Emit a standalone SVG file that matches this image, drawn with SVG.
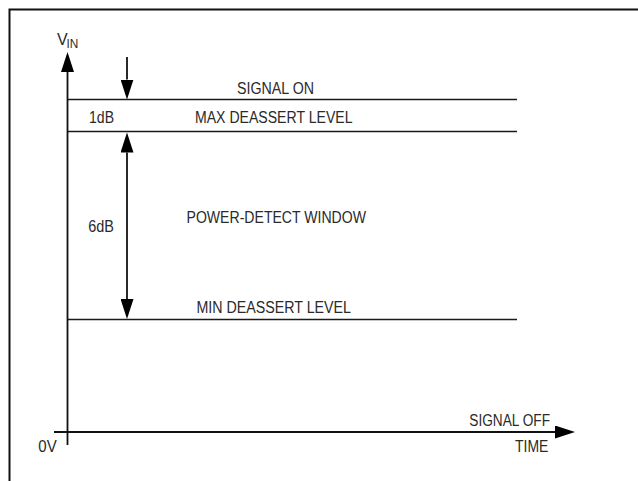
<svg xmlns="http://www.w3.org/2000/svg" width="638" height="481" viewBox="0 0 638 481">
<style>
  .frame{stroke:#111;stroke-width:2;fill:none}
  .ln{stroke:#1a1a1a;stroke-width:1.6;fill:none}
  .ax{stroke:#111;stroke-width:1.8;fill:none}
  .t{font-family:"Liberation Sans",Arial,sans-serif;font-size:16px;fill:#2a2a2a}
  .sub{font-family:"Liberation Sans",Arial,sans-serif;font-size:13px;fill:#2a2a2a}
</style>
<defs>
  <marker id="ah" markerUnits="userSpaceOnUse" markerWidth="20" markerHeight="13" refX="0" refY="6.5" orient="auto-start-reverse" viewBox="0 0 20 13">
    <path d="M0,0 L20,6.5 L0,13 Z" fill="#000"/>
  </marker>
</defs>
<rect width="638" height="481" fill="#fff"/>
<g id="frame">
  <path class="frame" d="M9.5,481 L9.5,9.5 L638,9.5"/>
</g>
<g id="levels">
  <line id="signal-on-line" class="ln" x1="67.5" y1="99.5" x2="517" y2="99.5"/>
  <line id="max-line" class="ln" x1="67.5" y1="131.5" x2="517" y2="131.5"/>
  <line id="min-line" class="ln" x1="67.5" y1="319.5" x2="517" y2="319.5"/>
</g>
<g id="connectors">
  <line id="y-axis" class="ax" x1="67.5" y1="445" x2="67.5" y2="72" marker-end="url(#ah)"/>
  <line id="x-axis" class="ax" x1="54" y1="432" x2="555" y2="432" marker-end="url(#ah)"/>
  <line id="arrow-1db" class="ax" x1="127" y1="57" x2="127" y2="79.5" marker-end="url(#ah)"/>
  <line id="arrow-6db" class="ax" x1="127" y1="152.5" x2="127" y2="299" marker-start="url(#ah)" marker-end="url(#ah)"/>
</g>
<g id="label-vin">
  <text class="t" x="57" y="44.5">V</text>
  <text class="sub" x="66.5" y="47.5" textLength="11.8" lengthAdjust="spacingAndGlyphs">IN</text>
</g>
<g id="label-signal-on"><text class="t" x="237" y="94" textLength="77" lengthAdjust="spacingAndGlyphs">SIGNAL ON</text></g>
<g id="label-1db"><text class="t" x="89" y="122.7" textLength="25" lengthAdjust="spacingAndGlyphs">1dB</text></g>
<g id="label-max"><text class="t" x="195" y="122.5" textLength="157.5" lengthAdjust="spacingAndGlyphs">MAX DEASSERT LEVEL</text></g>
<g id="label-6db"><text class="t" x="88.3" y="231.7" textLength="25.7" lengthAdjust="spacingAndGlyphs">6dB</text></g>
<g id="label-window"><text class="t" x="186.5" y="222.7" textLength="179.5" lengthAdjust="spacingAndGlyphs">POWER-DETECT WINDOW</text></g>
<g id="label-min"><text class="t" x="196.5" y="312.7" textLength="154.5" lengthAdjust="spacingAndGlyphs">MIN DEASSERT LEVEL</text></g>
<g id="label-signal-off"><text class="t" x="469.3" y="426" textLength="80.7" lengthAdjust="spacingAndGlyphs">SIGNAL OFF</text></g>
<g id="label-time"><text class="t" x="515" y="451.7" textLength="33.3" lengthAdjust="spacingAndGlyphs">TIME</text></g>
<g id="label-0v"><text class="t" x="38.3" y="452.3" textLength="18.4" lengthAdjust="spacingAndGlyphs">0V</text></g>
</svg>
